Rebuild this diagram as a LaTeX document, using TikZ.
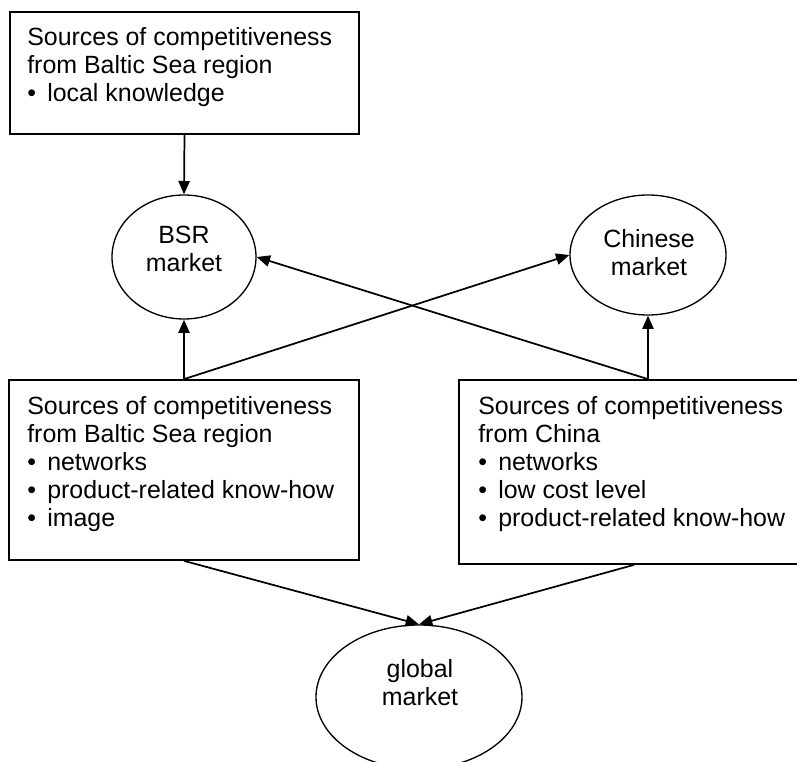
\documentclass[tikz,border=0pt]{standalone}
\usepackage{fontspec}
\setmainfont{Liberation Sans}
\usetikzlibrary{arrows.meta,shapes.geometric}
\newcommand{\bitem}{\makebox[15pt][l]{\textbullet}}
\tikzset{
  srcbox/.style={draw, line width=1.3pt, inner sep=0pt},
  mkt/.style={draw, ellipse, line width=1pt, inner sep=0pt},
  lbl/.style={inner sep=0pt, font=\fontsize{18.7}{21}\selectfont},
  flow/.style={line width=1.3pt, -{Triangle[length=10pt,width=8.5pt]}}
}
\begin{document}
\begin{tikzpicture}[x=0.75pt,y=0.75pt,yscale=-1,xscale=1]
\useasboundingbox (0,0) rectangle (797,762);

% Boxes
\node [srcbox, minimum width=261.75pt, minimum height=91.5pt] (topsrc) at (184.5,73) {};
\node [srcbox, minimum width=262.5pt, minimum height=135pt] (bsrsrc) at (184,470) {};
\node [srcbox, minimum width=262.5pt, minimum height=138pt] (cnsrc) at (634,472) {};

% Markets
\node [mkt, minimum width=108pt, minimum height=93pt] (bsr) at (184,257) {};
\node [mkt, minimum width=117pt, minimum height=90pt] (chn) at (648,255) {};
\node [mkt, minimum width=154.5pt, minimum height=108pt] (glob) at (419,697) {};

% Text Node
\node [lbl, anchor=north west, align=left] (toptxt) at (27,27) {Sources of competitiveness\\from Baltic Sea region\\\bitem local knowledge};
% Text Node
\node [lbl, anchor=north west, align=left] (bsrsrctxt) at (27,396) {Sources of competitiveness\\from Baltic Sea region\\\bitem networks\\\bitem product-related know-how\\\bitem image};
% Text Node
\node [lbl, anchor=north west, align=left] (cnsrctxt) at (478,396) {Sources of competitiveness\\from China\\\bitem networks\\\bitem low cost level\\\bitem product-related know-how};
% Text Node
\node [lbl, anchor=north, align=center] (bsrtxt) at (184,226) {BSR\\market};
% Text Node
\node [lbl, anchor=north, align=center] (chntxt) at (649,229) {Chinese\\market};
% Text Node
\node [lbl, anchor=north, align=center] (globtxt) at (420,659) {global\\market};

% Arrows
\coordinate (cntop) at (chn.south |- cnsrc.north);
\draw [flow] (topsrc.south) -- (bsr.north);
\draw [flow] (bsrsrc.north) -- (bsr.south);
\draw [flow] (bsrsrc.north) -- (chn.west);
\draw [flow] (cntop) -- (chn.south);
\draw [flow] (cntop) -- (bsr.east);
\draw [flow] (bsrsrc.south) -- (glob.north);
\draw [flow] (cnsrc.south) -- (glob.north);

\end{tikzpicture}
\end{document}
